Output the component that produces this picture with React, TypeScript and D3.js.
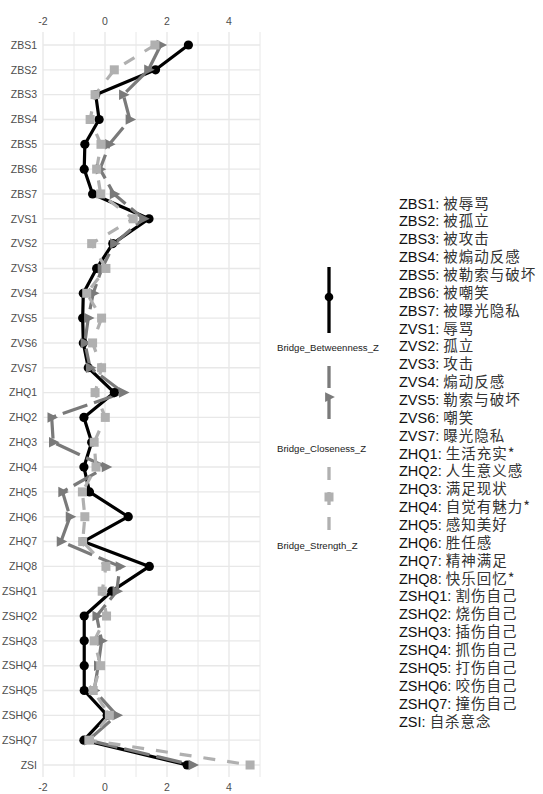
import React from "react";
import * as d3 from "d3";

const categories = [
  "ZBS1","ZBS2","ZBS3","ZBS4","ZBS5","ZBS6","ZBS7",
  "ZVS1","ZVS2","ZVS3","ZVS4","ZVS5","ZVS6","ZVS7",
  "ZHQ1","ZHQ2","ZHQ3","ZHQ4","ZHQ5","ZHQ6","ZHQ7","ZHQ8",
  "ZSHQ1","ZSHQ2","ZSHQ3","ZSHQ4","ZSHQ5","ZSHQ6","ZSHQ7","ZSI",
];

const betweenness = [
  2.69, 1.63, -0.3, -0.19, -0.65, -0.67, -0.4,
  1.42, 0.25, -0.27, -0.7, -0.72, -0.7, -0.54,
  0.3, -0.68, -0.43, -0.68, -0.5, 0.75, -0.7, 1.43,
  0.22, -0.67, -0.67, -0.67, -0.67, 0.07, -0.68, 2.65,
];

const closeness = [
  1.8, 1.4, 0.59, 0.8, 0.14, -0.16, 0.29,
  1.24, 0.3, -0.1, -0.38, -0.54, -0.65, -0.48,
  0.59, -1.72, -1.67, 0.03, -1.37, -1.13, -1.42, 0.48,
  0.38, -0.27, -0.11, -0.22, -0.35, 0.38, -0.54, 2.83,
];

const strength = [
  1.61, 0.3, -0.32, -0.48, -0.13, -0.27, -0.14,
  0.91, -0.43, 0.03, -0.59, -0.11, -0.4, -0.11,
  -0.32, 0.01, -0.35, -0.29, -0.73, -0.65, -0.72, 0.03,
  -0.09, 0.05, -0.35, -0.14, -0.38, 0.14, -0.5, 4.68,
];

const xTicks = [-2, 0, 2, 4];
const xGrid = [-2, -1, 0, 1, 2, 3, 4, 5];

const seriesNames = ["Bridge_Betweenness_Z", "Bridge_Closeness_Z", "Bridge_Strength_Z"];

const labelCodes = categories;
const labelNames = [
  "被辱骂","被孤立","被攻击","被煽动反感","被勒索与破坏","被嘲笑","被曝光隐私",
  "辱骂","孤立","攻击","煽动反感","勒索与破坏","嘲笑","曝光隐私",
  "生活充实*","人生意义感","满足现状","自觉有魅力*","感知美好","胜任感","精神满足","快乐回忆*",
  "割伤自己","烧伤自己","插伤自己","抓伤自己","打伤自己","咬伤自己","撞伤自己","自杀意念",
];

const W = 543;
const H = 794;

const COL_B = "#000000";
const COL_C = "#7a7a7a";
const COL_S = "#b0b0b0";

function tri(cx: number, cy: number, s: number) {
  return `M${cx - s * 0.6},${cy - s * 0.75} L${cx + s * 0.9},${cy} L${cx - s * 0.6},${cy + s * 0.75} Z`;
}

export default function App() {
  const x = d3.scaleLinear().domain([-2, 5]).range([43, 260]);
  const y = d3.scalePoint<string>().domain(categories).range([45, 765]);
  const panelTop = 32;
  const panelBottom = 777;

  const line = d3
    .line<number>()
    .x((d) => x(d))
    .y((_, i) => y(categories[i]) as number);

  const series = [
    { vals: betweenness, color: COL_B, dash: "none" },
    { vals: closeness, color: COL_C, dash: "26,7" },
    { vals: strength, color: COL_S, dash: "12,12" },
  ];

  const fontAxis = "'Liberation Sans', Arial, sans-serif";

  const legRowY = d3.scalePoint<string>().domain(labelCodes).range([203, 721]);

  return (
    <svg
      width={W}
      height={H}
      style={{ position: "absolute", left: 0, top: 0, background: "#fff" }}
    >
      <rect x={0} y={0} width={W} height={H} fill="#fff" />
      {/* grid */}
      {xGrid.map((v) => (
        <line
          key={"gx" + v}
          x1={x(v)}
          x2={x(v)}
          y1={panelTop}
          y2={panelBottom}
          stroke="#e8e8e8"
          strokeWidth={xTicks.includes(v) ? 1.4 : 1}
        />
      ))}
      {categories.map((c) => (
        <line
          key={"gy" + c}
          x1={x(-2)}
          x2={x(5)}
          y1={y(c)}
          y2={y(c)}
          stroke="#e8e8e8"
          strokeWidth={1.4}
        />
      ))}
      {/* axis labels */}
      {xTicks.map((v) => (
        <g key={"t" + v}>
          <text x={x(v)} y={25} textAnchor="middle" fontSize={10.5} fill="#4d4d4d" fontFamily={fontAxis}>
            {v}
          </text>
          <text x={x(v)} y={791} textAnchor="middle" fontSize={10.5} fill="#4d4d4d" fontFamily={fontAxis}>
            {v}
          </text>
        </g>
      ))}
      {categories.map((c) => (
        <text
          key={"yl" + c}
          x={37}
          y={(y(c) as number) + 3.8}
          textAnchor="end"
          fontSize={10.5}
          fill="#4d4d4d"
          fontFamily={fontAxis}
        >
          {c}
        </text>
      ))}
      {/* lines */}
      {series.map((s, i) => (
        <path
          key={"l" + i}
          d={line(s.vals) || ""}
          fill="none"
          stroke={s.color}
          strokeWidth={3.2}
          strokeDasharray={s.dash}
          strokeLinejoin="round"
        />
      ))}
      {/* points */}
      {betweenness.map((v, i) => (
        <circle key={"pb" + i} cx={x(v)} cy={y(categories[i])} r={4.6} fill={COL_B} />
      ))}
      {closeness.map((v, i) => (
        <path key={"pc" + i} d={tri(x(v), y(categories[i]) as number, 7)} fill={COL_C} />
      ))}
      {strength.map((v, i) => (
        <rect
          key={"ps" + i}
          x={x(v) - 4.5}
          y={(y(categories[i]) as number) - 4.5}
          width={9}
          height={9}
          fill={COL_S}
        />
      ))}
      {/* series legend */}
      <g>
        <line x1={329} x2={329} y1={267} y2={333} stroke={COL_B} strokeWidth={3.3} />
        <circle cx={329} cy={297} r={4.3} fill={COL_B} />
        <text x={277} y={351} fontSize={9.6} fill="#222" fontFamily={fontAxis}>
          {seriesNames[0]}
        </text>
        <line x1={329} x2={329} y1={366} y2={424} stroke={COL_C} strokeWidth={3.3} strokeDasharray="22,9" />
        <path d={tri(329, 397, 6.5)} fill={COL_C} />
        <text x={277} y={452} fontSize={9.6} fill="#222" fontFamily={fontAxis}>
          {seriesNames[1]}
        </text>
        <line x1={329} x2={329} y1={467} y2={538} stroke={COL_S} strokeWidth={3.3} strokeDasharray="13,12" />
        <rect x={324.5} y={492.5} width={9} height={9} fill={COL_S} />
        <text x={277} y={549} fontSize={9.6} fill="#222" fontFamily={fontAxis}>
          {seriesNames[2]}
        </text>
      </g>
      {/* code legend */}
      {labelCodes.map((c, i) => (
        <text key={"lg" + c} x={399} y={(legRowY(c) as number) + 5.5} fontSize={14.5}>
          <tspan fontFamily={fontAxis} fill="#111">{c + ": "}</tspan>
          <tspan fontFamily="'Noto Sans CJK SC', sans-serif" fill="#333" letterSpacing={1}>
            {labelNames[i]}
          </tspan>
        </text>
      ))}
    </svg>
  );
}
